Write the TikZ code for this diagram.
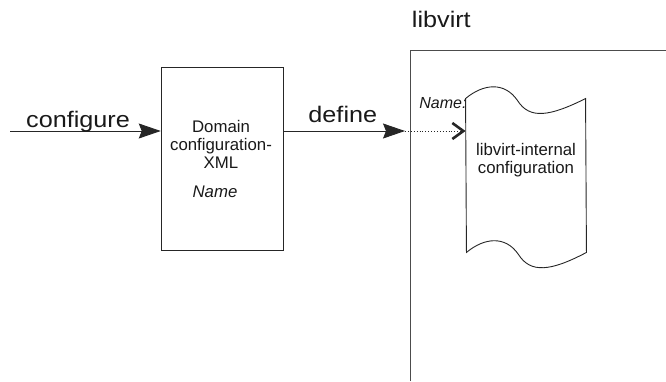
\documentclass[tikz,border=0pt]{standalone}
\usepackage{fontspec}
\setmainfont{Liberation Sans}
\newfontfamily\widesans{Liberation Sans}[FakeStretch=1.12]
\usetikzlibrary{arrows.meta, positioning}

\begin{document}
\begin{tikzpicture}[x=1pt, y=-1pt, ->, >={Stealth[length=22pt,width=15pt,inset=3pt]},
        line width=0.9pt, draw=black!85, every node/.style={inner sep=0pt, text=black!90},
        big/.style={font=\widesans\fontsize{22.5}{27}\selectfont},
        small/.style={font=\fontsize{16.8}{18}\selectfont}]
  \useasboundingbox (0,0) rectangle (666,381);

  % libvirt frame
  \draw[-, draw=black!70] (410,381) |- (666,50);
  \node [big, anchor=base west] at (411.5,27) (libvirtLabel) {libvirt};

  \node [draw, minimum width=122pt, minimum height=183pt] at (222.2,159) (domainXml) {};
  \node [small, align=center, anchor=base] at (221,168.3) (domainText) {Domain\\configuration-\\XML};
  \node [small, anchor=base] at (215,197.3) (nameXml) {\itshape Name};

  \coordinate (configStart) at (10,131);
  \coordinate (defineEnd) at (405,131);

  \draw (configStart) -- (domainXml.west |- configStart);
  \node [big, anchor=base] at (78,127) (configureLabel) {configure};

  \draw (domainXml.east |- defineEnd) -- (defineEnd);
  \node [big, anchor=base] at (342.8,122) (defineLabel) {define};

  \node [minimum width=120pt, minimum height=153pt] at (526,175.5) (internalConf) {};
  \node [small, align=center, anchor=base] at (526,173.5) (internalText) {libvirt-internal\\configuration};
  \node [font=\fontsize{16}{18}\selectfont\itshape, anchor=base east] at (467,108) (nameDoc) {Name:};

  % document outline with wavy top and bottom
  \draw[-] (internalConf.north west)
      .. controls +(18,-15) and +(-13,-19) .. ++(52,2)
      .. controls +(12,19) and +(-36,18) .. ++(68,-2)
      -- (internalConf.south east)
      .. controls +(-36,19) and +(12,19) .. ++(-68,2)
      .. controls +(-13,-19) and +(18,-15) .. ++(-52,-2)
      -- cycle;

  \draw [dotted, -{Straight Barb[length=11pt,width=16pt,line width=2.6pt]}] (defineEnd) -- (internalConf.west |- defineEnd);

\end{tikzpicture}
\end{document}
